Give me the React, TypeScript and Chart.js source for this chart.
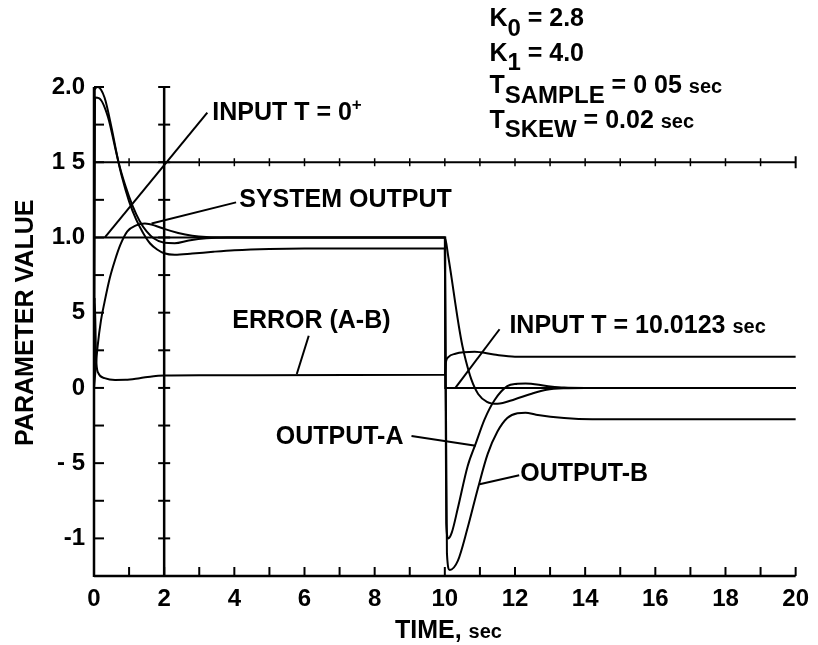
import React, { useEffect, useRef } from "react";
import { Chart, registerables } from "chart.js";

Chart.register(...registerables);

// ---------------- data ----------------
const X_MIN = 0;
const X_MAX = 20;
const Y_MIN = -1.25;
const Y_MAX = 2.0;

const xTickValues = [0, 2, 4, 6, 8, 10, 12, 14, 16, 18, 20];
const xTickText = ["0", "2", "4", "6", "8", "10", "12", "14", "16", "18", "20"];
const yTickValues = [-1, -0.5, 0, 0.5, 1.0, 1.5, 2.0];
const yTickText = ["-1", "- 5", "0", "5", "1.0", "1 5", "2.0"];

const inputTime = [0, 0, 10.0123, 10.0123, 20];
const inputValue = [0, 1, 1, 0, 0];

const systemTime = [0, 0.05, 0.1, 0.2, 0.3, 0.45, 0.6, 0.75, 0.95, 1.2, 1.45, 1.75, 2.0, 2.4, 2.8, 3.2, 3.8, 10.0,
  10.1, 10.2, 10.3, 10.4, 10.5, 10.6, 10.75, 10.95, 11.2, 11.5, 12.0, 12.45, 12.9, 13.4, 14.0, 20];
const systemValue = [0, 0.14, 0.27, 0.45, 0.57, 0.73, 0.85, 0.95, 1.04, 1.08, 1.092, 1.078, 1.057, 1.03, 1.012, 1.003, 1.0, 1.0,
  0.87, 0.72, 0.56, 0.41, 0.28, 0.18, 0.06, -0.04, -0.092, -0.105, -0.075, -0.04, -0.012, -0.002, 0, 0];

const outputATime = [0, 0.02, 0.1, 0.3, 0.5, 0.7, 0.9, 1.1, 1.3, 1.5, 1.7, 2.0, 2.3, 2.7, 3.2, 3.8, 10.0,
  10.04, 10.1, 10.2, 10.37, 10.65, 10.88, 11.13, 11.42, 11.78, 12.07, 12.3, 12.9, 13.4, 14.0, 20];
const outputAValue = [0, 1.98, 2.0, 1.93, 1.73, 1.5, 1.34, 1.21, 1.11, 1.04, 0.995, 0.965, 0.962, 0.98, 0.995, 1.0, 1.0,
  -0.9, -1.0, -0.96, -0.8, -0.52, -0.37, -0.21, -0.08, 0.012, 0.027, 0.03, 0.013, 0.002, 0, 0];

const outputBTime = [0, 0.03, 0.15, 0.4, 0.6, 0.8, 1.0, 1.2, 1.4, 1.6, 1.8, 2.0, 2.3, 2.8, 3.4, 4.0, 5.0, 6.0, 10.0,
  10.06, 10.14, 10.37, 10.65, 10.94, 11.22, 11.5, 11.78, 12.07, 12.3, 12.6, 13.4, 14.2, 20];
const outputBValue = [0, 1.93, 1.925, 1.8, 1.6, 1.4, 1.24, 1.12, 1.03, 0.96, 0.92, 0.895, 0.885, 0.893, 0.905, 0.915, 0.924, 0.927, 0.927,
  -1.1, -1.21, -1.15, -0.93, -0.67, -0.44, -0.29, -0.2, -0.168, -0.165, -0.178, -0.2, -0.208, -0.208];

const errorTime = [0, 0.02, 0.06, 0.12, 0.3, 0.6, 0.9, 1.3, 1.7, 2.0, 3.0, 10.0,
  10.03, 10.1, 10.3, 10.85, 11.4, 12.0, 13.0, 20];
const errorValue = [0, 0.6, 0.2, 0.1, 0.065, 0.053, 0.054, 0.065, 0.078, 0.082, 0.085, 0.087,
  0.17, 0.205, 0.227, 0.24, 0.222, 0.208, 0.207, 0.207];

const toPoints = (t: number[], v: number[]) => t.map((x, i) => ({ x, y: v[i] }));

// ---------------- fonts ----------------
const FAM = '"Liberation Sans", Arial, sans-serif';
const BIG = `bold 25px ${FAM}`;
const SUB = `bold 24px ${FAM}`;
const SMALL = `bold 20px ${FAM}`;
const SUP = `bold 17px ${FAM}`;

type Run = { t: string; f: string; dy?: number };

const annotPlugin = {
  id: "annot",
  afterDraw(chart: any) {
    const { ctx, scales } = chart;
    const xs = scales.x;
    const ys = scales.y;
    const X = (v: number) => xs.getPixelForValue(v);
    const Y = (v: number) => ys.getPixelForValue(v);
    ctx.save();
    ctx.strokeStyle = "#000";
    ctx.fillStyle = "#000";
    ctx.lineCap = "butt";
    const seg = (x1: number, y1: number, x2: number, y2: number, w = 2) => {
      ctx.lineWidth = w;
      ctx.beginPath();
      ctx.moveTo(x1, y1);
      ctx.lineTo(x2, y2);
      ctx.stroke();
    };
    // axes
    seg(X(0), Y(Y_MIN) + 1, X(0), Y(Y_MAX), 2.5);
    seg(X(0), Y(Y_MIN), X(X_MAX), Y(Y_MIN), 2.5);
    // left axis ticks (inside)
    for (let k = -4; k <= 8; k++) {
      const v = k * 0.25;
      seg(X(0), Y(v), X(0) + 10, Y(v), 2);
    }
    // bottom ticks (inside)
    for (let t = 1; t <= 20; t++) seg(X(t), Y(Y_MIN), X(t), Y(Y_MIN) - 9, 2);
    // vertical reference line at t = 2
    seg(X(2), Y(Y_MIN), X(2), Y(Y_MAX), 2.5);
    for (let k = -4; k <= 8; k++) {
      const v = k * 0.25;
      seg(X(2) - 6, Y(v), X(2) + 6, Y(v), 2);
    }
    // horizontal reference line at 1.5
    seg(X(0), Y(1.5), X(X_MAX), Y(1.5), 2);
    for (let t = 1; t < 20; t++) seg(X(t), Y(1.5) - 4, X(t), Y(1.5) + 4, 1.5);
    seg(X(20), Y(1.5) - 6, X(20), Y(1.5) + 6, 2);

    // leader lines
    const leaders: [number, number, number, number][] = [
      [0.31, 1.0, 3.23, 1.83],
      [1.64, 1.093, 4.05, 1.233],
      [5.78, 0.093, 6.12, 0.347],
      [10.3, 0.0, 11.56, 0.39],
      [9.05, -0.32, 10.88, -0.385],
      [10.99, -0.64, 12.12, -0.58],
    ];
    leaders.forEach(([a, b, c, d]) => seg(X(a), Y(b), X(c), Y(d), 2));

    // text
    ctx.textBaseline = "alphabetic";
    ctx.textAlign = "left";
    const runs = (x: number, y: number, parts: Run[]) => {
      let cx = x;
      for (const p of parts) {
        ctx.font = p.f;
        ctx.fillText(p.t, cx, y + (p.dy || 0));
        cx += ctx.measureText(p.t).width;
      }
    };
    runs(X(3.37), Y(1.78), [{ t: "INPUT T = 0", f: BIG }, { t: "+", f: SUP, dy: -10 }]);
    runs(X(4.14), Y(1.2), [{ t: "SYSTEM OUTPUT", f: BIG }]);
    runs(X(3.94), Y(0.4), [{ t: "ERROR (A-B)", f: BIG }]);
    runs(X(11.84), Y(0.367), [{ t: "INPUT T = 10.0123 ", f: BIG }, { t: "sec", f: SMALL }]);
    runs(X(5.18), Y(-0.373), [{ t: "OUTPUT-A", f: BIG }]);
    runs(X(12.15), Y(-0.62), [{ t: "OUTPUT-B", f: BIG }]);

    runs(X(11.27), Y(2.407), [{ t: "K", f: BIG }, { t: "0", f: SUB, dy: 10 }, { t: " = 2.8", f: BIG }]);
    runs(X(11.27), Y(2.173), [{ t: "K", f: BIG }, { t: "1", f: SUB, dy: 9 }, { t: " = 4.0", f: BIG }]);
    runs(X(11.27), Y(1.96), [{ t: "T", f: BIG }, { t: "SAMPLE", f: SUB, dy: 10 }, { t: " = 0 05 ", f: BIG }, { t: "sec", f: SMALL }]);
    runs(X(11.27), Y(1.727), [{ t: "T", f: BIG }, { t: "SKEW", f: SUB, dy: 9 }, { t: " = 0.02 ", f: BIG }, { t: "sec", f: SMALL }]);

    // axis titles
    runs(X(8.58), Y(-1.66), [{ t: "TIME, ", f: BIG }, { t: "sec", f: SMALL }]);
    ctx.save();
    ctx.translate(X(-1.73), Y(0.433));
    ctx.rotate(-Math.PI / 2);
    ctx.textAlign = "center";
    ctx.font = BIG;
    ctx.fillText("PARAMETER VALUE", 0, 0);
    ctx.restore();

    ctx.restore();
  },
};

export default function App() {
  const ref = useRef<HTMLCanvasElement | null>(null);
  useEffect(() => {
    if (!ref.current) return;
    const lineDs = (label: string, t: number[], v: number[], mono = true) => ({
      label,
      data: toPoints(t, v),
      borderColor: "#000",
      borderWidth: 2,
      pointRadius: 0,
      fill: false,
      tension: mono ? 0.4 : 0,
      cubicInterpolationMode: mono ? "monotone" : "default",
    });
    const chart = new Chart(ref.current, {
      type: "line",
      data: {
        datasets: [
          lineDs("Input", inputTime, inputValue, false),
          lineDs("System output", systemTime, systemValue),
          lineDs("Output-A", outputATime, outputAValue),
          lineDs("Output-B", outputBTime, outputBValue),
          lineDs("Error (A-B)", errorTime, errorValue),
        ] as any,
      },
      options: {
        animation: false,
        responsive: false,
        clip: false as any,
        layout: { padding: { top: 87, right: 18, bottom: 0, left: 0 } },
        plugins: { legend: { display: false }, tooltip: { enabled: false } },
        scales: {
          x: {
            type: "linear",
            min: X_MIN,
            max: X_MAX,
            grid: { display: false, drawTicks: false },
            border: { display: false },
            afterBuildTicks: (s: any) => {
              s.ticks = xTickValues.map((value) => ({ value }));
            },
            afterFit: (s: any) => {
              s.height = 69;
            },
            ticks: {
              autoSkip: false,
              maxRotation: 0,
              padding: 9,
              color: "#000",
              font: { family: FAM, size: 24, weight: "bold" },
              callback: (v: any) => {
                const i = xTickValues.findIndex((t) => Math.abs(t - Number(v)) < 1e-6);
                return i >= 0 ? xTickText[i] : "";
              },
            },
          },
          y: {
            type: "linear",
            min: Y_MIN,
            max: Y_MAX,
            grid: { display: false, drawTicks: false },
            border: { display: false },
            afterBuildTicks: (s: any) => {
              s.ticks = yTickValues.map((value) => ({ value }));
            },
            afterFit: (s: any) => {
              s.width = 94;
            },
            ticks: {
              autoSkip: false,
              padding: 9,
              color: "#000",
              font: { family: FAM, size: 24, weight: "bold" },
              callback: (v: any) => {
                const i = yTickValues.findIndex((t) => Math.abs(t - Number(v)) < 1e-6);
                return i >= 0 ? yTickText[i] : "";
              },
            },
          },
        },
      } as any,
      plugins: [annotPlugin],
    });
    return () => chart.destroy();
  }, []);
  return (
    <div style={{ position: "absolute", left: 0, top: 0, width: 818, height: 645, background: "#fff" }}>
      <canvas ref={ref} width={818} height={645} style={{ display: "block" }} />
    </div>
  );
}
